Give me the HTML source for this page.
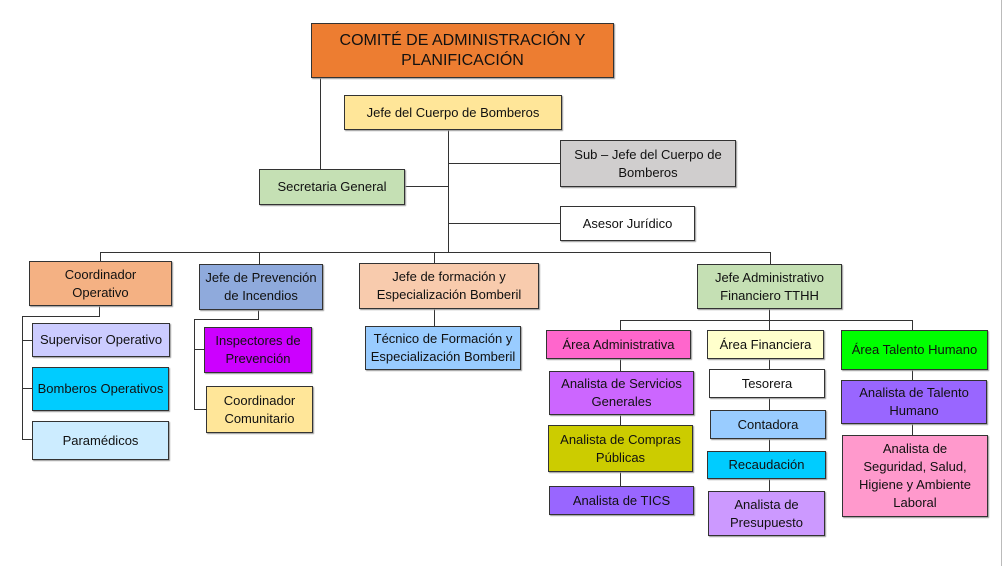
<!DOCTYPE html>
<html><head><meta charset="utf-8"><style>
body{margin:0;width:1003px;height:566px;background:#fff;position:relative;overflow:hidden;font-family:"Liberation Sans",Arial,sans-serif;}
.b{position:absolute;box-sizing:border-box;border:1px solid #333;display:flex;align-items:center;justify-content:center;text-align:center;font-size:13px;line-height:18px;color:#111;box-shadow:1px 1px 1px #999;}
.l{position:absolute;background:#333;}
</style></head><body>
<!-- lines -->
<div class="l" style="left:320px;top:78px;width:1px;height:92px"></div>
<div class="l" style="left:448px;top:130px;width:1px;height:122px"></div>
<div class="l" style="left:405px;top:186px;width:43px;height:1px"></div>
<div class="l" style="left:448px;top:163px;width:112px;height:1px"></div>
<div class="l" style="left:448px;top:223px;width:112px;height:1px"></div>
<div class="l" style="left:100px;top:252px;width:671px;height:1px"></div>
<div class="l" style="left:100px;top:252px;width:1px;height:9px"></div>
<div class="l" style="left:259px;top:252px;width:1px;height:12px"></div>
<div class="l" style="left:434px;top:252px;width:1px;height:11px"></div>
<div class="l" style="left:770px;top:252px;width:1px;height:12px"></div>
<div class="l" style="left:99px;top:306px;width:1px;height:10px"></div>
<div class="l" style="left:22px;top:316px;width:78px;height:1px"></div>
<div class="l" style="left:22px;top:316px;width:1px;height:123px"></div>
<div class="l" style="left:22px;top:340px;width:10px;height:1px"></div>
<div class="l" style="left:22px;top:388px;width:10px;height:1px"></div>
<div class="l" style="left:22px;top:439px;width:10px;height:1px"></div>
<div class="l" style="left:258px;top:310px;width:1px;height:9px"></div>
<div class="l" style="left:194px;top:319px;width:65px;height:1px"></div>
<div class="l" style="left:194px;top:319px;width:1px;height:90px"></div>
<div class="l" style="left:194px;top:349px;width:10px;height:1px"></div>
<div class="l" style="left:194px;top:409px;width:12px;height:1px"></div>
<div class="l" style="left:434px;top:309px;width:1px;height:17px"></div>
<div class="l" style="left:769px;top:309px;width:1px;height:21px"></div>
<div class="l" style="left:620px;top:320px;width:292px;height:1px"></div>
<div class="l" style="left:620px;top:320px;width:1px;height:10px"></div>
<div class="l" style="left:912px;top:320px;width:1px;height:10px"></div>
<div class="l" style="left:620px;top:359px;width:1px;height:127px"></div>
<div class="l" style="left:769px;top:359px;width:1px;height:132px"></div>
<div class="l" style="left:912px;top:370px;width:1px;height:65px"></div>
<div class="l" style="left:1001px;top:0;width:1px;height:566px;background:#bbb"></div>
<!-- boxes -->
<div class="b" style="left:311px;top:23px;width:303px;height:55px;background:#ED7D31;font-size:16px;line-height:20px">COMITÉ DE ADMINISTRACIÓN Y<br>PLANIFICACIÓN</div>
<div class="b" style="left:344px;top:95px;width:218px;height:35px;background:#FFE699">Jefe del Cuerpo de Bomberos</div>
<div class="b" style="left:560px;top:140px;width:176px;height:47px;background:#D0CECE">Sub – Jefe del Cuerpo de<br>Bomberos</div>
<div class="b" style="left:259px;top:169px;width:146px;height:36px;background:#C5E0B4">Secretaria General</div>
<div class="b" style="left:560px;top:206px;width:135px;height:35px;background:#fff">Asesor Jurídico</div>
<div class="b" style="left:29px;top:261px;width:143px;height:45px;background:#F4B183">Coordinador<br>Operativo</div>
<div class="b" style="left:199px;top:264px;width:124px;height:46px;background:#8FAADC">Jefe de Prevención<br>de Incendios</div>
<div class="b" style="left:359px;top:263px;width:180px;height:46px;background:#F8CBAD">Jefe de formación y<br>Especialización Bomberil</div>
<div class="b" style="left:697px;top:264px;width:145px;height:45px;background:#C5E0B4">Jefe Administrativo<br>Financiero TTHH</div>
<div class="b" style="left:32px;top:323px;width:138px;height:34px;background:#CCCCFF">Supervisor Operativo</div>
<div class="b" style="left:32px;top:367px;width:137px;height:44px;background:#00CCFF">Bomberos Operativos</div>
<div class="b" style="left:32px;top:421px;width:137px;height:39px;background:#CCECFF">Paramédicos</div>
<div class="b" style="left:204px;top:327px;width:108px;height:46px;background:#CC00FF">Inspectores de<br>Prevención</div>
<div class="b" style="left:206px;top:386px;width:107px;height:47px;background:#FFE699">Coordinador<br>Comunitario</div>
<div class="b" style="left:365px;top:326px;width:156px;height:44px;background:#99CCFF">Técnico de Formación y<br>Especialización Bomberil</div>
<div class="b" style="left:546px;top:330px;width:145px;height:29px;background:#FF66CC">Área Administrativa</div>
<div class="b" style="left:707px;top:330px;width:117px;height:29px;background:#FFFFCC">Área Financiera</div>
<div class="b" style="left:841px;top:330px;width:147px;height:40px;background:#00FF00">Área Talento Humano</div>
<div class="b" style="left:549px;top:371px;width:145px;height:44px;background:#CC66FF">Analista de Servicios<br>Generales</div>
<div class="b" style="left:548px;top:425px;width:145px;height:47px;background:#CCCC00">Analista de Compras<br>Públicas</div>
<div class="b" style="left:549px;top:486px;width:145px;height:29px;background:#9966FF">Analista de TICS</div>
<div class="b" style="left:709px;top:369px;width:116px;height:29px;background:#fff">Tesorera</div>
<div class="b" style="left:710px;top:410px;width:116px;height:29px;background:#99CCFF">Contadora</div>
<div class="b" style="left:707px;top:451px;width:119px;height:28px;background:#00CCFF">Recaudación</div>
<div class="b" style="left:708px;top:491px;width:117px;height:45px;background:#CC99FF">Analista de<br>Presupuesto</div>
<div class="b" style="left:841px;top:380px;width:146px;height:44px;background:#9966FF">Analista de Talento<br>Humano</div>
<div class="b" style="left:842px;top:435px;width:146px;height:82px;background:#FF99CC">Analista de<br>Seguridad, Salud,<br>Higiene y Ambiente<br>Laboral</div>
</body></html>
